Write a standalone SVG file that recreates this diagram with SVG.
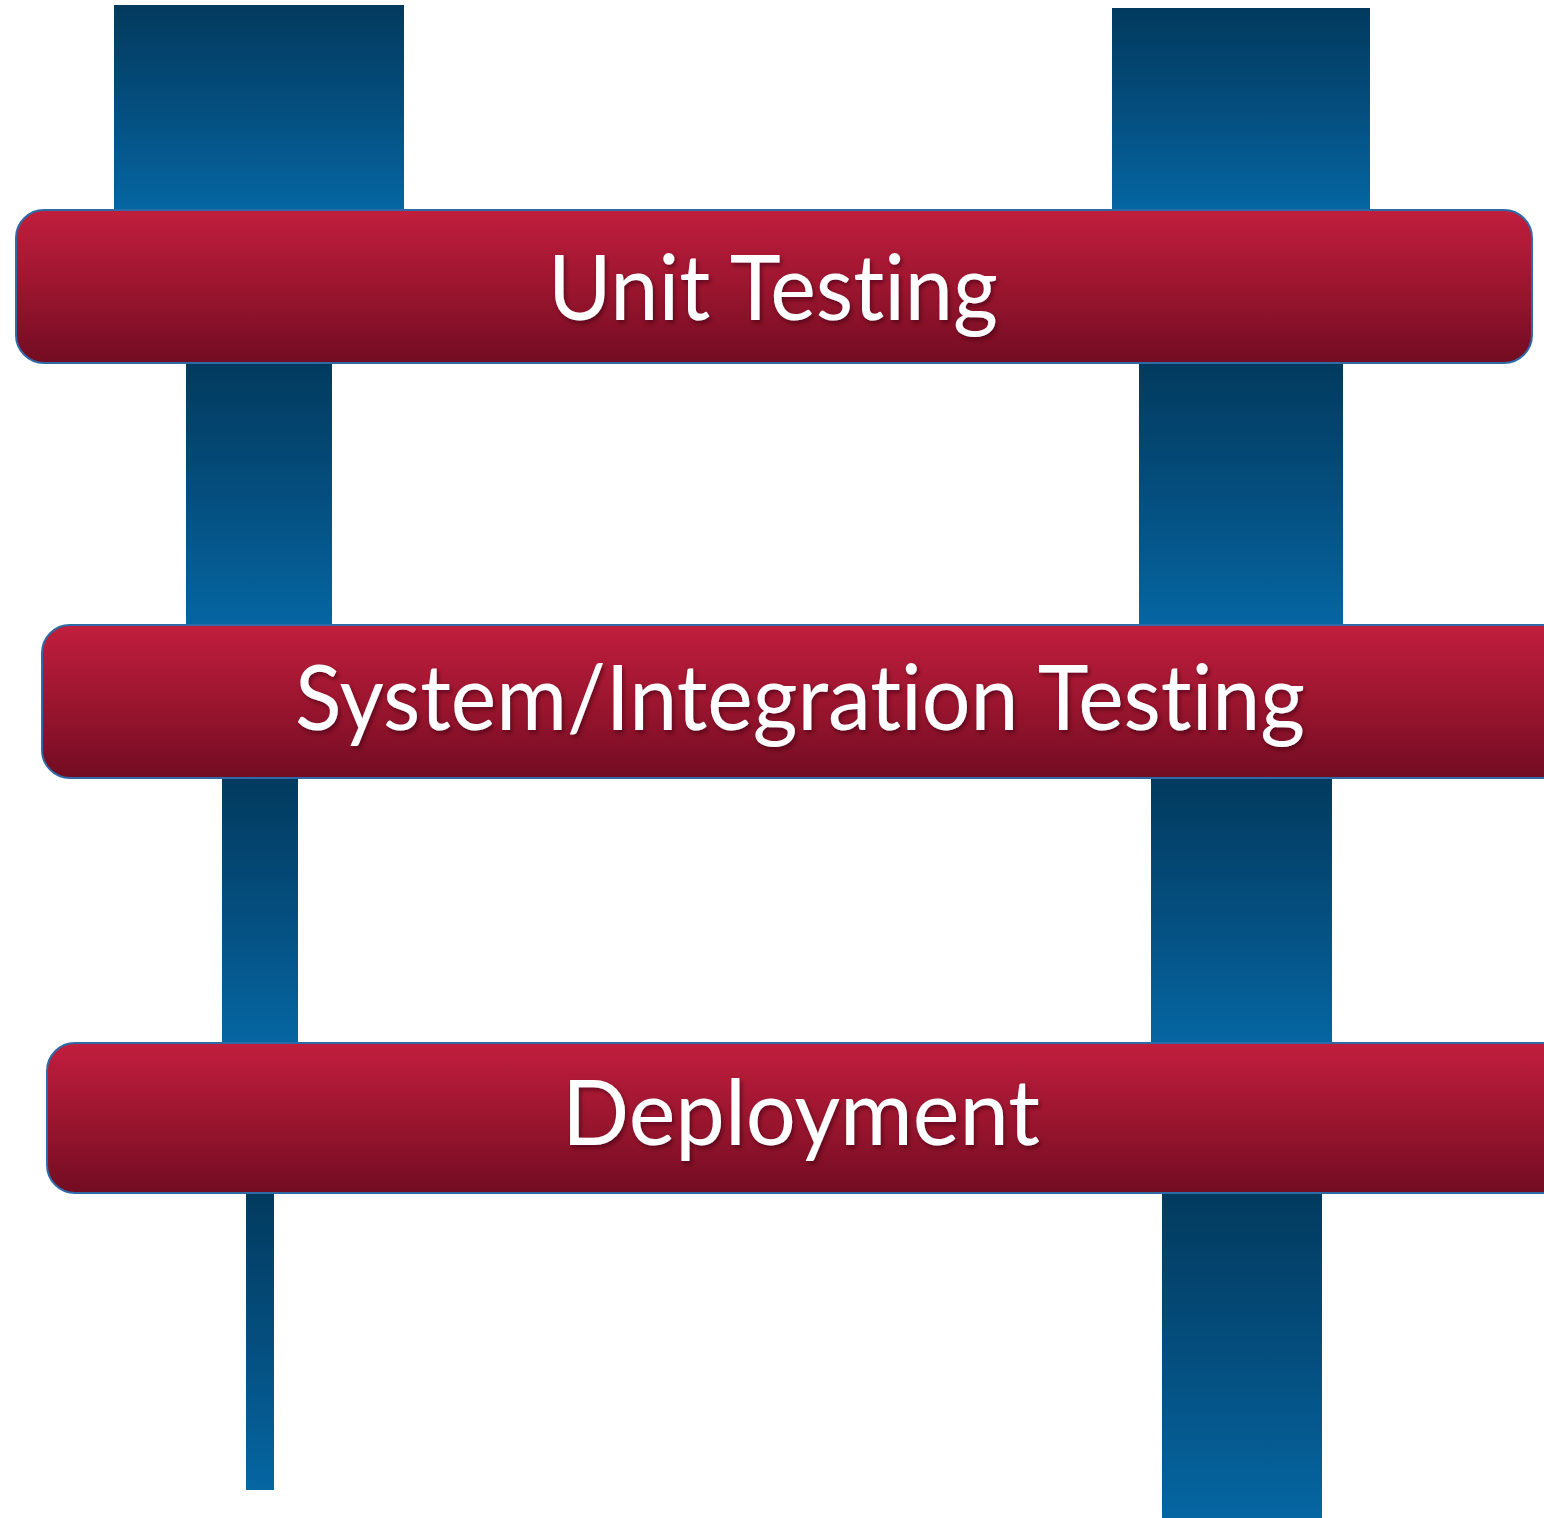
<svg xmlns="http://www.w3.org/2000/svg" width="1544" height="1518" viewBox="0 0 1544 1518">
<defs>
<linearGradient id="post" x1="0" y1="0" x2="0" y2="1">
<stop offset="0" stop-color="#023a5e"/>
<stop offset="0.5" stop-color="#044e7e"/>
<stop offset="1" stop-color="#0566a2"/>
</linearGradient>
<linearGradient id="bar" x1="0" y1="0" x2="0" y2="1">
<stop offset="0" stop-color="#c11e3d"/>
<stop offset="0.5" stop-color="#9c152f"/>
<stop offset="1" stop-color="#720c22"/>
</linearGradient>
<filter id="ts" x="-5%" y="-20%" width="110%" height="140%">
<feDropShadow dx="2" dy="3" stdDeviation="2" flood-color="#3a0010" flood-opacity="0.6"/>
</filter>
</defs>
<style>
.post{fill:url(#post)}
.bar{fill:url(#bar);stroke:#2e6aa6;stroke-width:2}
.lbl{fill:#ffffff;font-family:Lato,"Open Sans","Liberation Sans",sans-serif;font-size:91px;text-anchor:middle;font-variant-ligatures:none;font-feature-settings:"liga" 0,"clig" 0;filter:url(#ts)}
</style>
<rect width="1544" height="1518" fill="#ffffff"/>
<g id="connectors">
<rect class="post" x="114" y="5" width="290" height="206"/>
<rect class="post" x="1112" y="8" width="258" height="203"/>
<rect class="post" x="186" y="362" width="146" height="264"/>
<rect class="post" x="1139" y="362" width="204" height="264"/>
<rect class="post" x="222" y="777" width="76" height="267"/>
<rect class="post" x="1151" y="777" width="181" height="267"/>
<rect class="post" x="246" y="1192" width="28" height="298"/>
<rect class="post" x="1162" y="1192" width="160" height="326"/>
</g>
<g id="unit-testing">
<rect class="bar" x="16" y="210" width="1516" height="153" rx="28"/>
<text class="lbl" x="773" y="320" textLength="450" lengthAdjust="spacingAndGlyphs">Unit Testing</text>
</g>
<g id="system-integration-testing">
<rect class="bar" x="42" y="625" width="1530" height="153" rx="28"/>
<text class="lbl" x="800" y="730" textLength="1010" lengthAdjust="spacingAndGlyphs">System/Integration Testing</text>
</g>
<g id="deployment">
<rect class="bar" x="47" y="1043" width="1525" height="150" rx="28"/>
<text class="lbl" x="801" y="1145" textLength="478" lengthAdjust="spacingAndGlyphs">Deployment</text>
</g>
</svg>
